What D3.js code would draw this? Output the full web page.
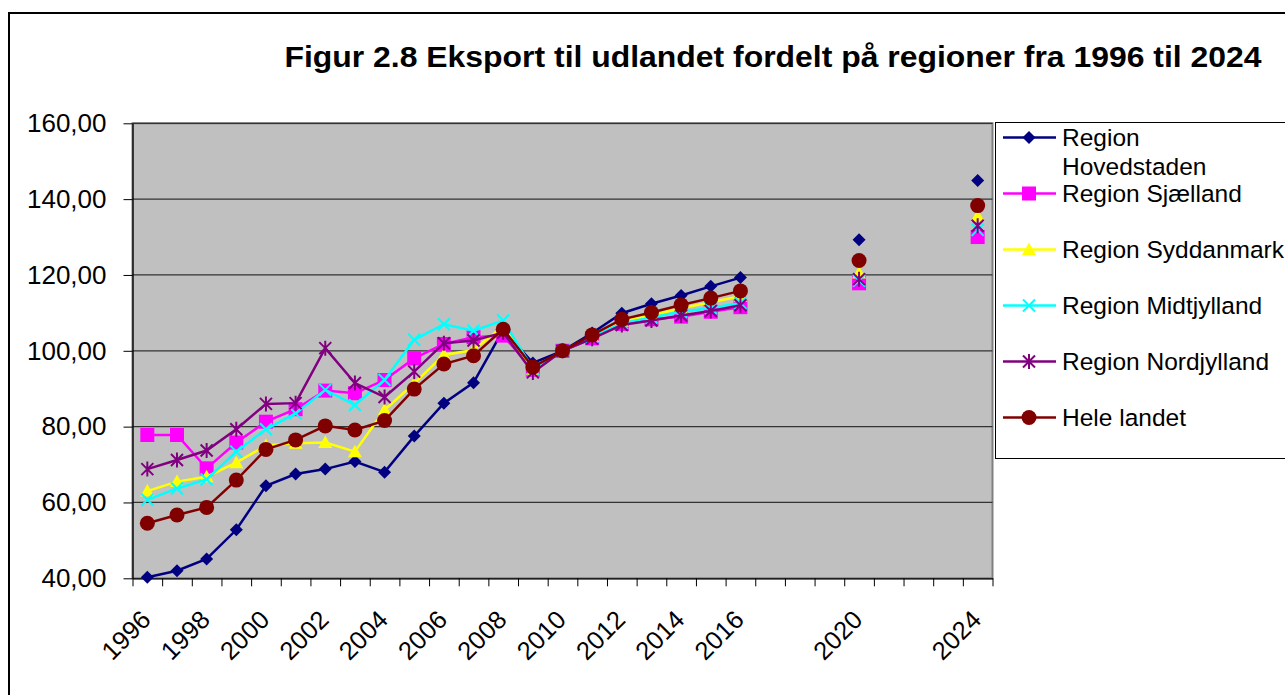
<!DOCTYPE html>
<html>
<head>
<meta charset="utf-8">
<script src="https://cdn.jsdelivr.net/npm/d3@7"></script>
<style>
  body { margin: 0; background: #fff; }
  svg { display: block; font-family: Arial, "Liberation Sans", sans-serif; }
</style>
</head>
<body>
<div id="chart"></div>
<script>
// categories (years on the axis) and which ones get a label
const years = [1996, 1997, 1998, 1999, 2000, 2001, 2002, 2003, 2004, 2005,
  2006, 2007, 2008, 2009, 2010, 2011, 2012, 2013, 2014, 2015,
  2016, 2017, 2018, 2019, 2020, 2021, 2022, 2023, 2024];
const labelYears = [1996, 1998, 2000, 2002, 2004, 2006, 2008, 2010, 2012, 2014, 2016, 2020, 2024];
const yTicks = [40, 60, 80, 100, 120, 140, 160];

// index values, 2010 = 100 (null = no value that year)
const hovedstaden = [40.3, 42.0, 45.1, 52.8, 64.4, 67.5, 68.8, 70.8, 68.0, 77.5,
  86.2, 91.6, 105.5, 96.8, 100.0, 104.7, 109.9, 112.4, 114.6, 117.0,
  119.3, null, null, null, 129.3, null, null, null, 144.9];
const sjaelland = [77.8, 77.8, 69.0, 75.8, 81.3, 84.6, 89.5, 88.8, 92.3, 98.0,
  101.8, 103.6, 104.0, 95.0, 100.0, 103.3, 107.1, 108.3, 109.0, 110.3,
  111.5, null, null, null, 117.8, null, null, null, 130.0];
const syddanmark = [63.0, 65.5, 66.8, 70.5, 75.0, 75.6, 75.8, 73.4, 84.4, 91.4,
  98.9, 100.2, 106.5, 95.0, 100.0, 103.8, 107.8, 109.4, 111.2, 112.8,
  114.4, null, null, null, 120.5, null, null, null, 135.5];
const midtjylland = [60.7, 63.7, 66.1, 73.4, 79.3, 83.5, 89.7, 85.7, 92.3, 102.9,
  107.0, 105.3, 108.0, 95.3, 100.0, 103.6, 107.3, 108.8, 110.3, 111.3,
  112.6, null, null, null, 118.5, null, null, null, 131.9];
const nordjylland = [68.8, 71.2, 73.7, 79.3, 86.0, 86.2, 100.7, 91.5, 87.8, 94.5,
  102.0, 102.7, 104.8, 94.3, 100.0, 103.2, 106.8, 108.0, 109.3, 110.5,
  112.0, null, null, null, 118.9, null, null, null, 133.0];
const heleLandet = [54.5, 56.7, 58.7, 65.9, 74.0, 76.5, 80.2, 79.1, 81.6, 89.9,
  96.5, 98.7, 105.7, 95.7, 100.0, 104.2, 108.3, 110.1, 112.1, 113.9,
  115.8, null, null, null, 123.8, null, null, null, 138.3];

const seriesNames = ["Region Hovedstaden", "Region Sjælland", "Region Syddanmark",
  "Region Midtjylland", "Region Nordjylland", "Hele landet"];
const seriesValues = [hovedstaden, sjaelland, syddanmark, midtjylland, nordjylland, heleLandet];
const seriesColors = ["#000080", "#ff00ff", "#ffff00", "#00ffff", "#800080", "#800000"];
const seriesMarkers = ["diamond", "square", "triangle", "cross", "star", "circle"];

const W = 1285, H = 695;
const plot = { left: 132.5, right: 992.5, top: 123.3, bottom: 578.3 };

const svg = d3.create("svg")
  .attr("width", W)
  .attr("height", H);
document.getElementById("chart").appendChild(svg.node());

// outer chart frame
svg.append("rect")
  .attr("x", 9).attr("y", 13)
  .attr("width", W + 20).attr("height", H + 20)
  .attr("fill", "#fff")
  .attr("stroke", "#000")
  .attr("stroke-width", 2);

// title
svg.append("text")
  .attr("x", 773)
  .attr("y", 67)
  .attr("text-anchor", "middle")
  .attr("font-weight", "bold")
  .attr("font-size", 29)
  .attr("textLength", 977)
  .attr("lengthAdjust", "spacingAndGlyphs")
  .text("Figur 2.8 Eksport til udlandet fordelt på regioner fra 1996 til 2024");

const xEdge = d3.scaleLinear()
  .domain([years[0] - 0.5, years[years.length - 1] + 0.5])
  .range([plot.left, plot.right]);
const x = (yr) => xEdge(yr);
const y = d3.scaleLinear().domain([40, 160]).range([plot.bottom, plot.top]);

const fmt = d3.formatLocale({ decimal: ",", thousands: ".", grouping: [3], currency: ["", ""] }).format(".2f");

// plot area
svg.append("rect")
  .attr("x", plot.left).attr("y", plot.top)
  .attr("width", plot.right - plot.left)
  .attr("height", plot.bottom - plot.top)
  .attr("fill", "#c0c0c0")
  .attr("stroke", "#808080")
  .attr("stroke-width", 2);

// gridlines
svg.append("g")
  .selectAll("line")
  .data(yTicks.slice(1))
  .join("line")
  .attr("x1", plot.left).attr("x2", plot.right)
  .attr("y1", (d) => y(d)).attr("y2", (d) => y(d))
  .attr("stroke", "#333")
  .attr("stroke-width", 1.3);

// y axis
const yAxis = svg.append("g")
  .attr("transform", `translate(${plot.left},0)`)
  .call(d3.axisLeft(y).tickValues(yTicks).tickFormat(fmt).tickSizeInner(9).tickSizeOuter(0).tickPadding(17));
yAxis.selectAll("text").attr("font-size", 26).attr("fill", "#000").attr("font-family", "Arial, sans-serif");
yAxis.select(".domain").attr("stroke", "#000").attr("stroke-width", 1.3);

// x axis: ticks on category boundaries
const edges = years.map((d) => d - 0.5).concat([years[years.length - 1] + 0.5]);
const xAxis = svg.append("g")
  .attr("transform", `translate(0,${plot.bottom})`)
  .call(d3.axisBottom(xEdge).tickValues(edges).tickFormat("").tickSizeInner(8).tickSizeOuter(0));
xAxis.select(".domain").attr("stroke", "#000").attr("stroke-width", 1.3);

svg.append("g")
  .selectAll("text")
  .data(labelYears)
  .join("text")
  .attr("transform", (d) => `translate(${x(d) + 5},${plot.bottom + 43}) rotate(-45)`)
  .attr("text-anchor", "end")
  .attr("font-size", 25.5)
  .text((d) => d);

// markers
function markerPath(kind) {
  const r = 6.5;
  if (kind === "diamond") return `M0,${-r}L${r},0L0,${r}L${-r},0Z`;
  if (kind === "square") return `M-7,-7H7V7H-7Z`;
  if (kind === "triangle") return `M0,-7L7,5.5L-7,5.5Z`;
  if (kind === "cross") return `M-6,-6L6,6M6,-6L-6,6`;
  if (kind === "star") return `M-6,-6L6,6M6,-6L-6,6M0,-7.5V7.5`;
  return null;
}
function drawMarker(sel, kind, color) {
  if (kind === "circle") {
    sel.append("circle").attr("r", 7.5).attr("fill", color);
  } else if (kind === "cross" || kind === "star") {
    sel.append("path").attr("d", markerPath(kind)).attr("fill", "none")
      .attr("stroke", color).attr("stroke-width", 2);
  } else {
    sel.append("path").attr("d", markerPath(kind)).attr("fill", color);
  }
}

const line = d3.line()
  .defined((d) => d.v !== null)
  .x((d) => x(d.yr))
  .y((d) => y(d.v));

seriesValues.forEach((vals, i) => {
  const pts = years.map((yr, j) => ({ yr, v: vals[j] }));
  const g = svg.append("g");
  // only connect the yearly run; 2020 and 2024 are lone points
  g.append("path")
    .datum(pts)
    .attr("d", line)
    .attr("fill", "none")
    .attr("stroke", seriesColors[i])
    .attr("stroke-width", 2.5);
  g.selectAll("g.m")
    .data(pts.filter((d) => d.v !== null))
    .join("g")
    .attr("class", "m")
    .attr("transform", (d) => `translate(${x(d.yr)},${y(d.v)})`)
    .each(function () {
      drawMarker(d3.select(this), seriesMarkers[i], seriesColors[i]);
    });
});

// legend
const legend = svg.append("g");
legend.append("rect")
  .attr("x", 995.5).attr("y", 122.5)
  .attr("width", 320).attr("height", 336)
  .attr("fill", "#fff")
  .attr("stroke", "#000");

const legendY = [137.5, 193.5, 249.5, 305.5, 361.5, 417.5];
seriesNames.forEach((name, i) => {
  const row = legend.append("g").attr("transform", `translate(0,${legendY[i]})`);
  row.append("line")
    .attr("x1", 1003).attr("x2", 1056)
    .attr("stroke", seriesColors[i])
    .attr("stroke-width", 2.5);
  const m = row.append("g").attr("transform", "translate(1029,0)");
  drawMarker(m, seriesMarkers[i], seriesColors[i]);
  const t = row.append("text")
    .attr("x", 1062)
    .attr("dy", "0.35em")
    .attr("font-size", 24.5);
  if (i === 0) {
    t.append("tspan").attr("x", 1062).text("Region");
    t.append("tspan").attr("x", 1062).attr("dy", 29).text("Hovedstaden");
  } else {
    t.text(name);
  }
});
</script>
</body>
</html>
